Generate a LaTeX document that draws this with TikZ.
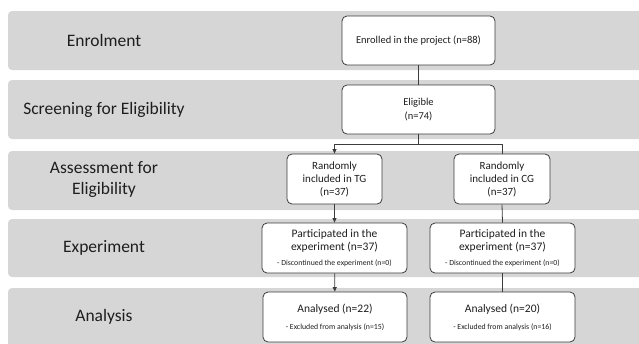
\documentclass[tikz,border=0pt]{standalone}
\usepackage{fontspec}
\setmainfont{Carlito}
\usetikzlibrary{arrows.meta}
\definecolor{bandgray}{HTML}{D6D6D6}
\definecolor{edgegray}{HTML}{3C3C3C}
\definecolor{inkgray}{HTML}{1E1E1E}
\tikzset{
  band/.style={fill=bandgray, rounded corners=4pt},
  stage/.style={text=inkgray, font=\fontsize{17.5}{21}\selectfont, align=center},
  box/.style={draw=edgegray, line width=0.8pt, fill=white, rounded corners=5pt,
              text=inkgray, align=center, inner sep=0pt},
  link/.style={draw=edgegray, line width=0.8pt},
  arr/.style={link, -{Triangle[length=4.5pt,width=4pt]}}
}
\newcommand{\bigtxt}{\fontsize{11.5}{13}\selectfont}
\newcommand{\midtxt}{\fontsize{10.5}{14.5}\selectfont}
\newcommand{\smalltxt}{\fontsize{7.8}{9}\selectfont}
\begin{document}
\begin{tikzpicture}[x=1pt, y=-1pt]
  \useasboundingbox (0,0) rectangle (639,343);
  \clip (0,0) rectangle (639,343);

  % stage bands
  \fill[band] (8,11)  rectangle (660,70);
  \fill[band] (8,80)  rectangle (660,139);
  \fill[band] (8,151) rectangle (660,210);
  \fill[band] (8,219) rectangle (660,277);
  \fill[band] (8,288) rectangle (660,348);

  % stage labels
  \node[stage] (lEnrol)  at (104,40)  {Enrolment};
  \node[stage] (lScreen) at (104,110) {Screening for Eligibility};
  \node[stage] (lAssess) at (104,180) {Assessment for\\Eligibility};
  \node[stage] (lExp)    at (104,248) {Experiment};
  \node[stage] (lAna)    at (104,317) {Analysis};

  % flow boxes
  \node[box, minimum width=153pt, minimum height=49pt, font=\midtxt] (enrol) at (418.5,40.5)
    {Enrolled in the project (n=88)};
  \node[box, minimum width=153pt, minimum height=49pt, font=\midtxt] (elig) at (418.5,109.5)
    {Eligible\\(n=74)};
  \node[box, minimum width=95pt, minimum height=50pt, font=\fontsize{11}{13}\selectfont] (tg) at (334.5,179)
    {Randomly\\included in TG\\(n=37)};
  \node[box, minimum width=96pt, minimum height=50pt, font=\fontsize{11}{13}\selectfont] (cg) at (502,179)
    {Randomly\\included in CG\\(n=37)};
  \node[box, minimum width=145pt, minimum height=50pt, font=\bigtxt] (ptg) at (334.5,248)
    {Participated in the\\experiment (n=37)\\[2pt]\smalltxt - Discontinued the experiment (n=0)};
  \node[box, minimum width=145pt, minimum height=50pt, font=\bigtxt] (pcg) at (502.5,248)
    {Participated in the\\experiment (n=37)\\[2pt]\smalltxt - Discontinued the experiment (n=0)};
  \node[box, minimum width=144pt, minimum height=50pt, font=\bigtxt] (atg) at (335,317)
    {Analysed (n=22)\\[4pt]\smalltxt - Excluded from analysis (n=15)};
  \node[box, minimum width=145pt, minimum height=50pt, font=\bigtxt] (acg) at (502.5,317)
    {Analysed (n=20)\\[4pt]\smalltxt - Excluded from analysis (n=16)};

  % connectors
  \draw[link] (enrol) -- (elig);
  \draw[link] (elig.south) -- ++(0,10) coordinate (split);
  \draw[arr]  (split) -| (tg.north);
  \draw[link] (split) -| (cg.north);
  \draw[arr]  (tg) -- (ptg);
  \draw[arr]  (ptg) -- (atg);
  \draw[link] (cg.south) -- (pcg.north);
  \draw[link] (pcg) -- (acg);
\end{tikzpicture}
\end{document}
